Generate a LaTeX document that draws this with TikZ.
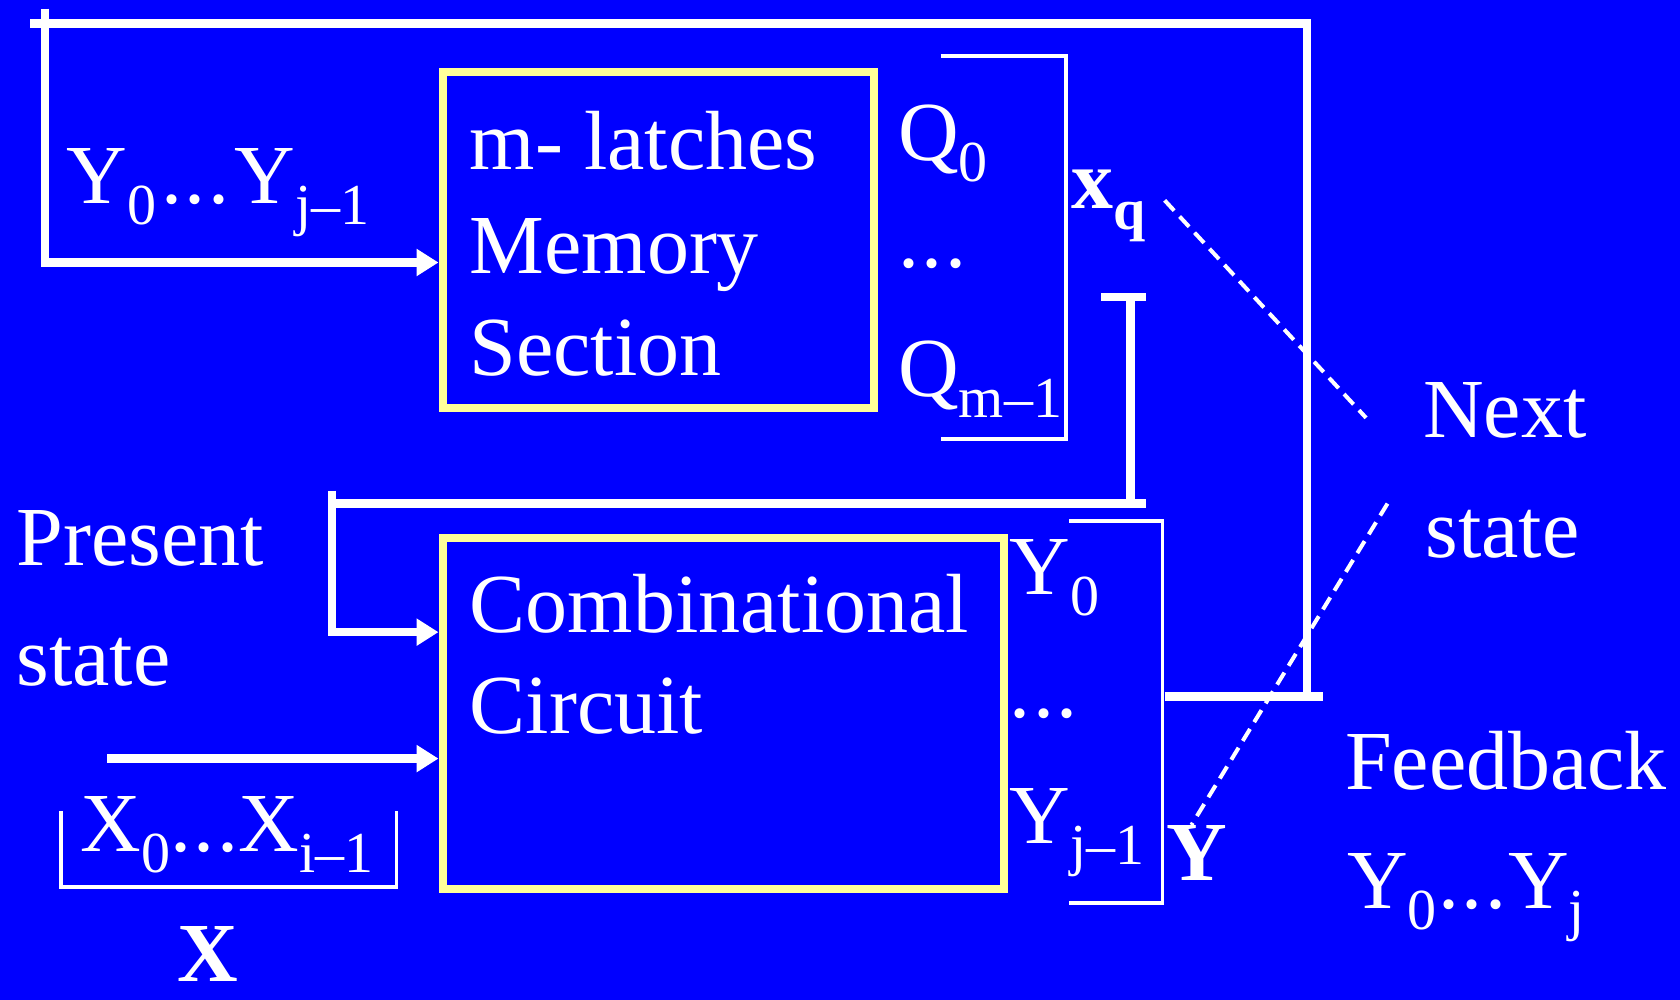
\documentclass[tikz,border=0pt]{standalone}
\usepackage{fontspec}
\setmainfont{Liberation Serif}
\usetikzlibrary{arrows.meta}
\definecolor{bgblue}{HTML}{0000FF}
\definecolor{boxyellow}{HTML}{FFFF99}
\newcommand{\U}{0.535714pt}
\newcommand{\sbx}[1]{\raisebox{-0.25em}{\fontsize{29}{29}\selectfont #1}}
\newcommand{\el}[1]{\kern#1.\kern0.03em.\kern0.03em.\kern#1}
\begin{document}
\begin{tikzpicture}[x=0.535714pt,y=-0.535714pt,
  txt/.style={text=white,inner sep=0pt,anchor=base west,font=\fontsize{42}{51}\selectfont},
  bold/.style={font=\fontsize{42}{51}\selectfont\bfseries},
  wire/.style={draw=white,line width=4.2pt},
  blockbox/.style={draw=boxyellow,line width=4pt,inner sep=0pt},
  brk/.style={draw=white,line width=1.8pt},
  dsh/.style={draw=white,line width=2pt,dash pattern=on 7pt off 4pt},
  arr/.style={-{Triangle[length=11pt,width=13pt]}}
]
\fill[bgblue] (0,0) rectangle (1568,933);
\useasboundingbox (0,0) rectangle (1568,933);

% blocks
\node[blockbox,minimum width=403*\U,minimum height=314*\U] (mem) at (614.5,224) {};
\node[blockbox,minimum width=524*\U,minimum height=328*\U] (comb) at (675,666) {};

% named coordinates
\coordinate (tlh) at (28,22);
\coordinate (tlv) at (42,8);
\coordinate (tlb) at (42,245);
\coordinate (trc) at (1220,22);
\coordinate (trb) at (1220,650);
\coordinate (fbl) at (1087,650);
\coordinate (fbr) at (1235,650);
\coordinate (tbl) at (1028,277);
\coordinate (tbr) at (1070,277);
\coordinate (tbv) at (1055,277);
\coordinate (tbb) at (1055,470);
\coordinate (psr) at (1070,470);
\coordinate (psl) at (308,470);
\coordinate (pvt) at (310,458);
\coordinate (pvb) at (310,590);
\coordinate (xin) at (100,708);

% feedback loop
\draw[wire] (tlh) -- (trc) -- (trb);
\draw[wire,arr] (tlv) -- (tlb) -- (tlb -| mem.west);
\draw[wire] (fbl) -- (fbr);

% present state path
\draw[wire] (tbl) -- (tbr);
\draw[wire] (tbv) -- (tbb);
\draw[wire] (psl) -- (psr);
\draw[wire,arr] (pvt) -- (pvb) -- (pvb -| comb.west);

% input
\draw[wire,arr] (xin) -- (xin -| comb.west);

% brackets
\coordinate (qa) at (878,52);  \coordinate (qb) at (995,52);
\coordinate (qc) at (995,410); \coordinate (qd) at (878,410);
\draw[brk] (qa) -- (qb) -- (qc) -- (qd);
\coordinate (ya) at (998,486);  \coordinate (yb) at (1085,486);
\coordinate (yc) at (1085,843); \coordinate (yd) at (998,843);
\draw[brk] (ya) -- (yb) -- (yc) -- (yd);
\coordinate (xa) at (57,757);  \coordinate (xb) at (57,828);
\coordinate (xc) at (370,828); \coordinate (xd) at (370,757);
\draw[brk] (xa) -- (xb) -- (xc) -- (xd);

% dashed pointers
\coordinate (d1a) at (1087,187); \coordinate (d1b) at (1275,390);
\coordinate (d2a) at (1295,470); \coordinate (d2b) at (1112,770);
\draw[dsh] (d1a) -- (d1b);
\draw[dsh] (d2a) -- (d2b);

% texts
\node[txt] (ylab) at (62,190) {Y\sbx{0}\el{0.06em}Y\sbx{j–1}};
\node[txt] (m1) at (438,158) {m- latches};
\node[txt] (m2) at (438,255) {Memory};
\node[txt] (m3) at (438,350) {Section};
\node[txt] (q0) at (838,150) {Q\sbx{0}};
\node[txt] (qdots) at (838,250) {\el{0em}};
\node[txt] (qm) at (838,370) {Q\sbx{m–1}};
\node[txt,bold] (xq) at (1000,195) {x\sbx{q}};
\node[txt] (pr1) at (15,528) {Present};
\node[txt] (pr2) at (15,640) {state};
\node[txt] (c1) at (438,590) {Combinational};
\node[txt] (c2) at (438,685) {Circuit};
\node[txt] (y0) at (942,555) {Y\sbx{0}};
\node[txt] (ydots) at (942,670) {\el{0em}};
\node[txt] (yj) at (942,787) {Y\sbx{j–1}};
\node[txt,bold] (ybig) at (1088,822) {Y};
\node[txt] (xs) at (75,795) {X\sbx{0}\el{0em}X\sbx{i–1}};
\node[txt,bold] (xbig) at (165,916) {X};
\node[txt] (nx1) at (1328,408) {Next};
\node[txt] (nx2) at (1330,520) {state};
\node[txt] (fb) at (1255,737) {Feedback};
\node[txt] (fy) at (1257,848) {Y\sbx{0}\el{0.02em}Y\sbx{j}};
\end{tikzpicture}
\end{document}
